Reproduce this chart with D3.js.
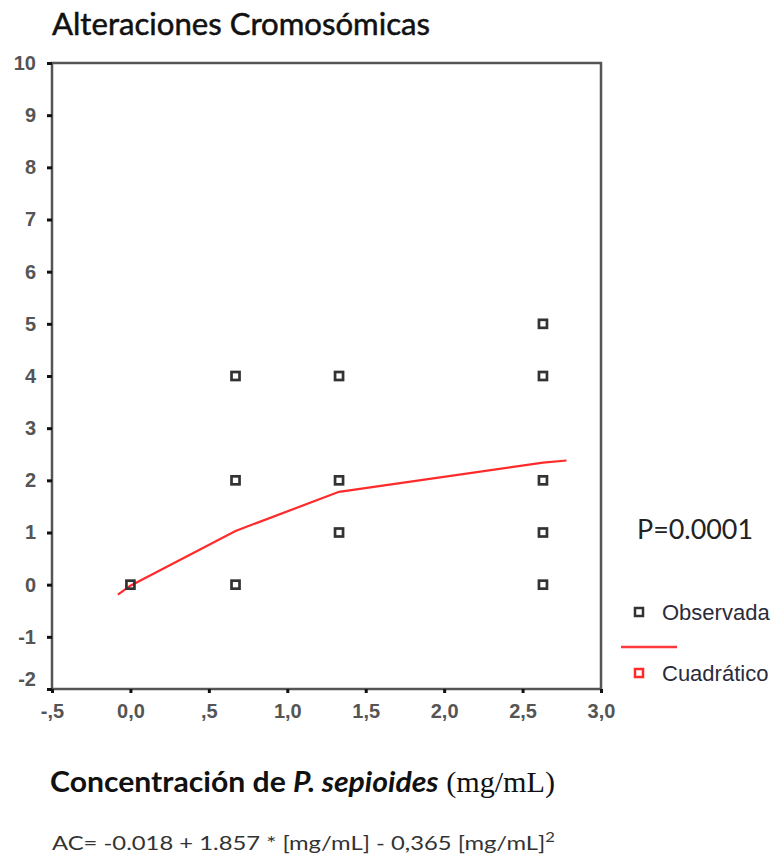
<!DOCTYPE html>
<html lang="es">
<head>
<meta charset="UTF-8">
<title>Alteraciones Cromosómicas</title>
<script src="https://d3js.org/d3.v7.min.js"></script>
<style>
  body { margin: 0; background: #fff; }
  svg { display: block; }
</style>
</head>
<body>
<svg width="783" height="855"></svg>
<script>
// ticks
const xTickValues = [-0.5, 0, 0.5, 1, 1.5, 2, 2.5, 3];
const xTickLabels = ["-,5", "0,0", ",5", "1,0", "1,5", "2,0", "2,5", "3,0"];
const yTickValues = [-2, -1, 0, 1, 2, 3, 4, 5, 6, 7, 8, 9, 10];

// observed values (concentration mg/mL, alterations)
const obsX = [0, 0.67, 0.67, 0.67, 1.33, 1.33, 1.33, 2.63, 2.63, 2.63, 2.63, 2.63];
const obsY = [0, 4, 2, 0, 4, 2, 1, 5, 4, 2, 1, 0];

// quadratic fit line as drawn
const fitX = [-0.08, 0, 0.67, 1.33, 2.63, 2.78];
const fitY = [-0.19, -0.02, 1.03, 1.78, 2.34, 2.38];

const margin = {top: 63, right: 182, bottom: 166, left: 52};
const W = 783, H = 855;

const svg = d3.select("svg");

const x = d3.scaleLinear().domain([-0.5, 3]).range([margin.left, W - margin.right]);
const y = d3.scaleLinear().domain([-2, 10]).range([H - margin.bottom, margin.top]);

// title
svg.append("text")
    .attr("x", 52).attr("y", 35)
    .attr("font-family", "Lato, 'Open Sans', sans-serif")
    .attr("font-size", 30)
    .attr("fill", "#111")
    .attr("stroke", "#111").attr("stroke-width", 0.5)
    .attr("textLength", 378).attr("lengthAdjust", "spacingAndGlyphs")
    .text("Alteraciones Cromosómicas");

// frame
svg.append("rect")
    .attr("x", x(-0.5)).attr("y", y(10))
    .attr("width", x(3) - x(-0.5)).attr("height", y(-2) - y(10))
    .attr("fill", "none").attr("stroke", "#555").attr("stroke-width", 2.5);

// y axis
const yAxis = d3.axisLeft(y)
    .tickValues(yTickValues)
    .tickFormat(d => String(d))
    .tickSize(5).tickPadding(11);

const gy = svg.append("g")
    .attr("transform", "translate(" + x(-0.5) + ",0)")
    .call(yAxis);

// x axis
const xAxis = d3.axisBottom(x)
    .tickValues(xTickValues)
    .tickFormat((d, i) => xTickLabels[i])
    .tickSize(4).tickPadding(11);

const gx = svg.append("g")
    .attr("transform", "translate(0," + y(-2) + ")")
    .call(xAxis);

[gx, gy].forEach(g => {
    g.select(".domain").remove();
    g.selectAll(".tick line").attr("stroke", "#111").attr("stroke-width", 3);
    g.selectAll(".tick text")
        .attr("font-family", "'Liberation Sans', Arial, sans-serif")
        .attr("font-size", 20)
        .attr("font-weight", "bold")
        .attr("fill", "#555");
});
// lowest y label sits a little above its tick
gy.selectAll(".tick text").filter(d => d === -2).attr("dy", "-0.2em");

// fit line
const line = d3.line().x(d => x(d[0])).y(d => y(d[1]));
svg.append("path")
    .datum(d3.zip(fitX, fitY))
    .attr("d", line)
    .attr("fill", "none")
    .attr("stroke", "#ff2a2a")
    .attr("stroke-width", 2.2);

// observed points
svg.append("g")
    .selectAll("rect")
    .data(d3.zip(obsX, obsY))
    .enter()
    .append("rect")
    .attr("x", d => x(d[0]) - 4)
    .attr("y", d => y(d[1]) - 4)
    .attr("width", 8).attr("height", 8)
    .attr("fill", "none")
    .attr("stroke", "#333")
    .attr("stroke-width", 2.7);

// P value
svg.append("text")
    .attr("x", 637).attr("y", 539)
    .attr("font-family", "Lato, 'Open Sans', sans-serif")
    .attr("font-size", 26)
    .attr("fill", "#222")
    .attr("textLength", 116).attr("lengthAdjust", "spacingAndGlyphs")
    .text("P=0.0001");

// legend
const legend = svg.append("g");
legend.append("rect")
    .attr("x", 635).attr("y", 608).attr("width", 8).attr("height", 8)
    .attr("fill", "none").attr("stroke", "#333").attr("stroke-width", 2.5);
legend.append("text")
    .attr("x", 662).attr("y", 612).attr("dy", "0.35em")
    .attr("font-family", "'Liberation Sans', Arial, sans-serif")
    .attr("font-size", 22).attr("fill", "#2b2b3a")
    .text("Observada");
legend.append("line")
    .attr("x1", 621).attr("x2", 677).attr("y1", 647).attr("y2", 647)
    .attr("stroke", "#ff3a3a").attr("stroke-width", 2.5);
legend.append("rect")
    .attr("x", 635).attr("y", 669).attr("width", 8).attr("height", 8)
    .attr("fill", "none").attr("stroke", "#ff2a2a").attr("stroke-width", 2.5);
legend.append("text")
    .attr("x", 662).attr("y", 673).attr("dy", "0.35em")
    .attr("font-family", "'Liberation Sans', Arial, sans-serif")
    .attr("font-size", 22).attr("fill", "#2b2b3a")
    .text("Cuadrático");

// x axis title
const xt = svg.append("text")
    .attr("x", 50).attr("y", 792)
    .attr("font-family", "Lato, 'Open Sans', sans-serif")
    .attr("font-size", 29)
    .attr("fill", "#111")
    .attr("textLength", 505).attr("lengthAdjust", "spacingAndGlyphs");
xt.append("tspan").attr("font-weight", "bold").text("Concentración de ");
xt.append("tspan").attr("font-weight", "bold").attr("font-style", "italic").text("P. sepioides");
xt.append("tspan").attr("font-family", "'Liberation Serif', 'DejaVu Serif', serif").text(" (mg/mL)");

// formula
const ft = svg.append("text")
    .attr("x", 52).attr("y", 850)
    .attr("font-family", "Lato, 'Open Sans', sans-serif")
    .attr("font-size", 20)
    .attr("fill", "#333")
    .attr("textLength", 503).attr("lengthAdjust", "spacingAndGlyphs");
ft.append("tspan").text("AC= -0.018 + 1.857 * [mg/mL] - 0,365 [mg/mL]");
ft.append("tspan").attr("dy", -8).attr("font-size", 14).text("2");
</script>
</body>
</html>
